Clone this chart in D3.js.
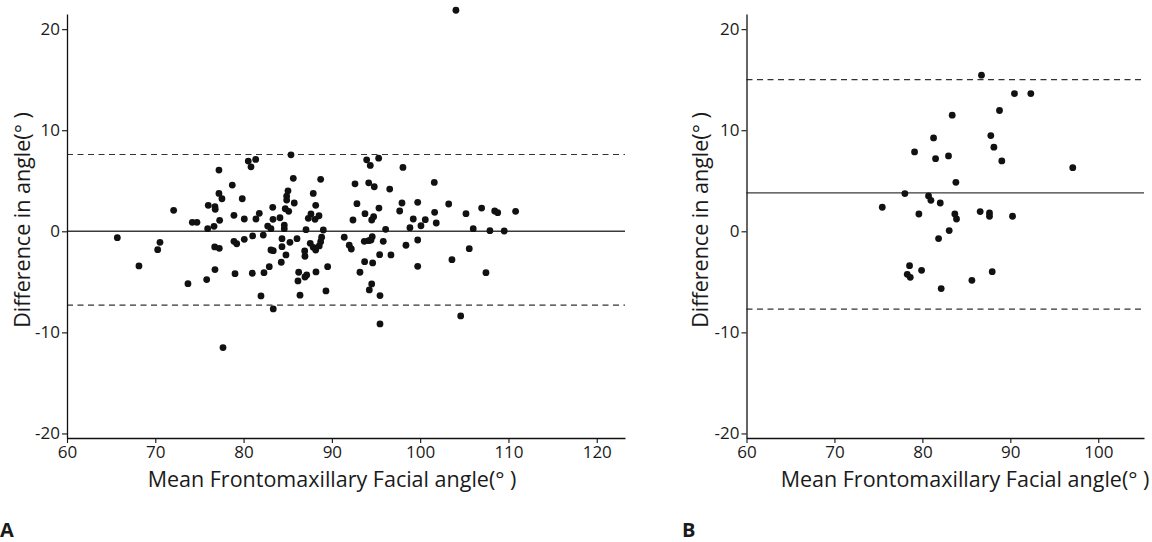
<!DOCTYPE html>
<html><head><meta charset="utf-8">
<script src="https://cdn.jsdelivr.net/npm/d3@7"></script>
<style>
body{margin:0;background:#fff}
svg text{font-family:"Open Sans",sans-serif;fill:#1a1a1a}
</style>
</head><body>
<svg id="c" width="1152" height="542"></svg>
<script>
// ---- Panel A data (mean angle, difference) ----
const leftX = [65.70,68.15,70.27,70.53,72.08,73.70,74.19,74.72,75.82,75.93,76.00,76.65,76.76,76.79,76.76,76.73,77.25,77.21,77.21,77.55,77.29,77.67,78.72,78.91,78.91,79.22,79.03,
80.53,81.37,80.84,79.85,80.08,81.40,81.78,80.08,81.03,82.23,80.99,82.31,82.91,81.97,83.36,85.37,85.63,83.30,85.03,84.88,84.88,84.72,85.11,85.74,83.33,84.12,82.73,83.10,84.61,84.61,84.35,84.35,85.25,86.05,83.10,83.36,84.80,84.27,86.24,86.16,86.95,87.15,86.39,87.07,86.92,86.95,87.55,87.89,88.17,88.20,87.89,88.17,87.63,87.33,88.09,
88.73,89.03,88.84,88.73,88.57,89.33,89.52,91.40,91.97,92.20,92.62,92.84,92.39,93.18,93.71,94.62,94.17,94.80,93.94,94.35,95.30,93.75,94.73,94.51,95.33,96.55,97.94,97.68,98.05,96.09,95.82,96.69,95.41,93.67,94.17,94.43,94.57,94.24,94.51,95.45,95.45,98.39,98.84,88.54,
101.60,99.72,101.64,101.82,103.23,99.22,100.58,100.09,99.72,99.72,103.60,105.19,106.01,105.56,106.96,107.45,107.90,108.44,108.78,104.59,109.52,110.81,104.05];
const leftY = [-0.63,-3.43,-1.82,-1.09,2.08,-5.18,0.89,0.89,-4.78,0.26,2.57,0.49,2.43,2.17,-3.79,-1.55,-1.68,6.06,3.75,3.22,1.09,-11.50,4.57,1.58,-0.99,-1.23,-4.19,
6.95,7.11,6.38,3.22,1.22,1.22,1.78,-0.79,-0.46,-0.37,-4.15,-4.09,-3.50,-6.39,-7.68,7.57,5.24,2.37,4.01,3.49,3.09,2.23,1.98,2.80,1.19,1.34,0.52,0.26,0.62,0.26,-0.73,-1.52,-1.09,-0.73,-1.85,-1.92,-2.34,-3.06,-4.05,-4.91,-4.52,-4.32,-6.32,0.16,-1.95,-2.47,-1.19,-1.58,-1.85,-4.02,3.75,2.57,1.71,1.28,1.19,
5.14,0.13,-0.59,-1.03,-1.45,-5.90,-3.50,-0.59,-1.38,-1.75,4.70,2.73,1.12,-4.05,-3.00,-3.13,4.80,4.41,7.07,6.52,7.24,1.74,1.44,1.12,2.30,4.18,2.80,2.01,6.32,0.20,-0.99,-2.34,-2.31,-0.99,-0.93,-0.86,-0.53,-5.80,-5.21,-6.36,-9.16,-1.38,0.36,1.54,
4.84,2.87,1.88,0.82,2.70,1.22,1.15,0.55,-0.86,-3.46,-2.81,1.74,0.26,-1.72,2.30,-4.09,0.06,2.01,1.84,-8.37,0.03,1.98,21.87];
const leftLines = {mean: 0, upper: 7.6, lower: -7.3};

// ---- Panel B data ----
const rightX = [86.72,90.47,92.33,88.77,83.39,81.27,87.78,88.13,79.11,81.50,82.97,89.03,97.10,83.81,78.01,80.70,80.97,82.03,75.44,79.60,83.69,83.88,86.57,87.63,87.63,90.25,83.05,81.84,78.54,78.28,78.62,79.91,87.94,85.63,82.14];
const rightY = [15.45,13.63,13.63,11.95,11.49,9.24,9.47,8.32,7.85,7.19,7.46,6.96,6.30,4.85,3.73,3.50,3.07,2.80,2.38,1.71,1.71,1.22,1.95,1.81,1.49,1.49,0.07,-0.72,-3.40,-4.26,-4.55,-3.86,-3.99,-4.85,-5.67];
const rightLines = {mean: 3.8, upper: 15.0, lower: -7.7};

// ---- ticks & labels ----
const yTicks = [-20,-10,0,10,20];
const leftXTicks = [60,70,80,90,100,110,120];
const rightXTicks = [60,70,80,90,100];
const xTitle = "Mean Frontomaxillary Facial angle(\u00B0 )";
const yTitle = "Difference in angle(\u00B0 )";
const panelLetters = ["A","B"];

const svg = d3.select("#c");

function panel(opt){
  const x = d3.scaleLinear().domain(opt.xDomain).range(opt.xRange);
  const y = d3.scaleLinear().domain([-20.45, 21.5]).range([438, 14]);
  const g = svg.append("g");
  const x0 = opt.xRange[0], x1 = opt.xRange[1];

  const lines = [
    {v: opt.lines.upper, dash: "6,4.5"},
    {v: opt.lines.lower, dash: "6,4.5"},
    {v: opt.lines.mean, dash: null}
  ];
  g.selectAll("line.ref").data(lines).join("line")
    .attr("x1", x0).attr("x2", x1)
    .attr("y1", d => y(d.v)).attr("y2", d => y(d.v))
    .attr("stroke", d => d.dash ? "#333" : "#3a3a3a")
    .attr("stroke-width", d => d.dash ? 1.2 : 1.4)
    .attr("stroke-dasharray", d => d.dash);

  g.selectAll("circle").data(opt.xs.map((v,i)=>[v,opt.ys[i]])).join("circle")
    .attr("cx", d => x(d[0])).attr("cy", d => y(d[1]))
    .attr("r", 3.4).attr("fill", "#111");

  const fmt = d => String(d);
  const ya = g.append("g").attr("transform", `translate(${x0},0)`)
    .call(d3.axisLeft(y).tickValues(yTicks).tickFormat(fmt).tickSize(5).tickSizeOuter(0).tickPadding(2));
  const xa = g.append("g").attr("transform", `translate(0,438)`)
    .call(d3.axisBottom(x).tickValues(opt.xTicks).tickFormat(fmt).tickSize(5).tickSizeOuter(0).tickPadding(3));
  [ya, xa].forEach(a => {
    a.attr("font-family", null).attr("font-size", null);
    a.select(".domain").attr("stroke", "#111").attr("stroke-width", 1.3);
    a.selectAll(".tick line").attr("stroke", "#111").attr("stroke-width", 1.1);
    a.selectAll(".tick text").attr("font-size", 17).attr("fill", "#1a1a1a");
  });

  g.append("text").attr("x", opt.xTitleX).attr("y", 487)
    .attr("text-anchor", "middle").attr("font-size", 21.5).text(xTitle);
  g.append("text").attr("transform", `translate(${opt.yTitleX},220) rotate(-90)`)
    .attr("text-anchor", "middle").attr("font-size", 21.5).text(yTitle);
  g.append("text").attr("x", opt.letterX).attr("y", 537)
    .attr("font-size", 20).attr("font-weight", "bold").text(opt.letter);
}

panel({xs: leftX, ys: leftY, lines: leftLines, xDomain: [60, 123.2], xRange: [67, 625],
  xTicks: leftXTicks, xTitleX: 332, yTitleX: 30, letterX: 0, letter: panelLetters[0]});
panel({xs: rightX, ys: rightY, lines: rightLines, xDomain: [60, 105.2], xRange: [746.5, 1144],
  xTicks: rightXTicks, xTitleX: 965, yTitleX: 708, letterX: 682, letter: panelLetters[1]});
</script>
</body></html>
